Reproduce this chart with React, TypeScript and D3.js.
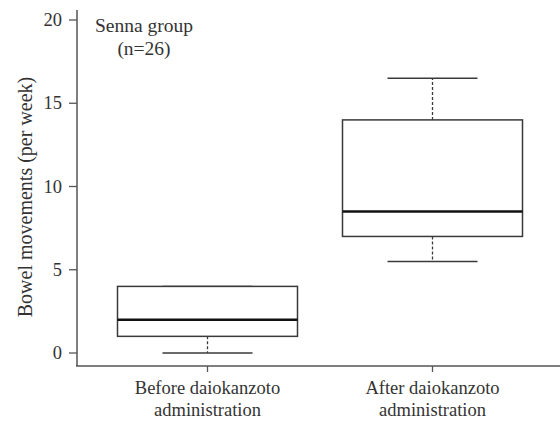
import React, { useEffect, useRef } from 'react';
import * as d3 from 'd3';

const groups = ['Before daiokanzoto\nadministration', 'After daiokanzoto\nadministration'];
const mins = [0, 5.5];
const q1s = [1, 7];
const medians = [2, 8.5];
const q3s = [4, 14];
const maxs = [4, 16.5];
const yTicks = [0, 5, 10, 15, 20];

export default function App() {
  const svgRef = useRef<SVGSVGElement>(null);

  useEffect(() => {
    if (!svgRef.current) return;
    const svg = d3.select(svgRef.current);
    svg.selectAll('*').remove();

    const width = 560;
    const height = 423;
    const font = 'Liberation Serif';
    const lineColor = '#3a3a3a';

    const y = d3.scaleLinear().domain([0, 20]).range([353, 20]);
    const x = d3.scaleBand().domain(groups).range([95, 545]).paddingInner(0.2).paddingOuter(0.1);

    svg.attr('width', width).attr('height', height);

    // axes lines
    svg.append('line')
      .attr('x1', 77).attr('x2', 77).attr('y1', 10).attr('y2', 366)
      .attr('stroke', '#555').attr('stroke-width', 1.5);
    svg.append('line')
      .attr('x1', 76).attr('x2', 560).attr('y1', 366).attr('y2', 366)
      .attr('stroke', '#555').attr('stroke-width', 1.5);

    // y ticks
    const yt = svg.append('g');
    yTicks.forEach((t) => {
      yt.append('line')
        .attr('x1', 69).attr('x2', 77).attr('y1', y(t)).attr('y2', y(t))
        .attr('stroke', '#555').attr('stroke-width', 1.3);
      yt.append('text')
        .attr('x', 62).attr('y', y(t) + 6)
        .attr('text-anchor', 'end')
        .attr('font-family', font).attr('font-size', 18.5).attr('fill', '#333')
        .text(t);
    });

    // x ticks and labels
    groups.forEach((g) => {
      const cx = (x(g) || 0) + x.bandwidth() / 2;
      svg.append('line')
        .attr('x1', cx).attr('x2', cx).attr('y1', 366).attr('y2', 372)
        .attr('stroke', '#555').attr('stroke-width', 1.3);
      const lines = g.split('\n');
      lines.forEach((l, i) => {
        svg.append('text')
          .attr('x', cx).attr('y', 394 + i * 21.5)
          .attr('text-anchor', 'middle')
          .attr('font-family', font).attr('font-size', 18.5).attr('fill', '#333')
          .text(l);
      });
    });

    // boxes
    groups.forEach((g, i) => {
      const x0 = x(g) || 0;
      const bw = x.bandwidth();
      const cx = x0 + bw / 2;
      const capW = bw / 2;
      const box = svg.append('g');

      // whiskers
      if (maxs[i] > q3s[i]) {
        box.append('line')
          .attr('x1', cx).attr('x2', cx).attr('y1', y(q3s[i])).attr('y2', y(maxs[i]))
          .attr('stroke', lineColor).attr('stroke-width', 1.3).attr('stroke-dasharray', '3,2');
      }
      box.append('line')
        .attr('x1', cx - capW / 2).attr('x2', cx + capW / 2).attr('y1', y(maxs[i])).attr('y2', y(maxs[i]))
        .attr('stroke', lineColor).attr('stroke-width', 1.5);
      if (mins[i] < q1s[i]) {
        box.append('line')
          .attr('x1', cx).attr('x2', cx).attr('y1', y(q1s[i])).attr('y2', y(mins[i]))
          .attr('stroke', lineColor).attr('stroke-width', 1.3).attr('stroke-dasharray', '3,2');
      }
      box.append('line')
        .attr('x1', cx - capW / 2).attr('x2', cx + capW / 2).attr('y1', y(mins[i])).attr('y2', y(mins[i]))
        .attr('stroke', lineColor).attr('stroke-width', 1.5);

      box.append('rect')
        .attr('x', x0).attr('y', y(q3s[i]))
        .attr('width', bw).attr('height', y(q1s[i]) - y(q3s[i]))
        .attr('fill', 'white').attr('stroke', lineColor).attr('stroke-width', 1.5);

      box.append('line')
        .attr('x1', x0).attr('x2', x0 + bw).attr('y1', y(medians[i])).attr('y2', y(medians[i]))
        .attr('stroke', '#111').attr('stroke-width', 2.6);
    });

    // y title
    svg.append('text')
      .attr('transform', `translate(32,${197}) rotate(-90)`)
      .attr('text-anchor', 'middle')
      .attr('font-family', font).attr('font-size', 20).attr('fill', '#333')
      .text('Bowel movements (per week)');

    // annotation
    svg.append('text')
      .attr('x', 144).attr('y', 32).attr('text-anchor', 'middle')
      .attr('font-family', font).attr('font-size', 19.5).attr('fill', '#333')
      .text('Senna group');
    svg.append('text')
      .attr('x', 144).attr('y', 55).attr('text-anchor', 'middle')
      .attr('font-family', font).attr('font-size', 19.5).attr('fill', '#333')
      .text('(n=26)');
  }, []);

  return (
    <div style={{ position: 'absolute', left: 0, top: 0, background: 'white' }}>
      <svg ref={svgRef} style={{ display: 'block' }} />
    </div>
  );
}
